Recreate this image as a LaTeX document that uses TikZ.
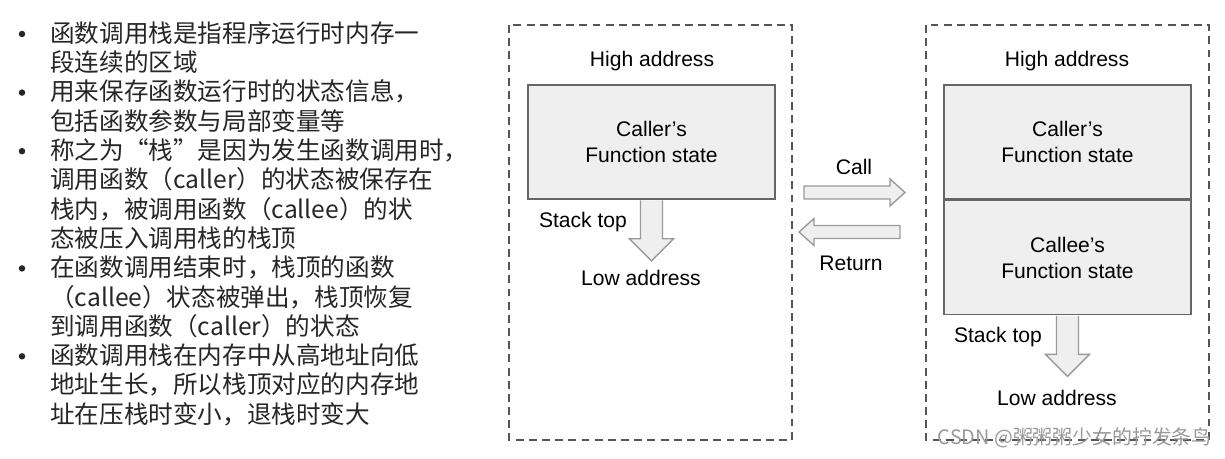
\documentclass[tikz,border=0pt]{standalone}
\usepackage{fontspec}
\setmainfont{Liberation Sans}
\newfontfamily\cjk{Noto Sans CJK SC}
\usetikzlibrary{positioning}
\definecolor{boxgray}{HTML}{EFEFEF}
\definecolor{edgegray}{HTML}{666666}
\definecolor{arrgray}{HTML}{9A9A9A}
\definecolor{dashgray}{HTML}{555555}
\definecolor{txtgray}{HTML}{262626}
\tikzset{
  cnline/.style={anchor=west,inner sep=0pt,text height=12.3pt,text depth=1.7pt,
    font=\cjk\fontsize{14}{16.7}\selectfont,text=txtgray},
  bullet/.style={circle,fill=txtgray,inner sep=0pt,minimum size=0.13cm},
  lbl/.style={inner sep=0pt,font=\fontsize{12}{14.7}\selectfont,align=center},
  statebox/.style={draw=edgegray,fill=boxgray,line width=0.9pt,minimum width=4.94cm,
    minimum height=2.28cm,inner sep=0pt,align=center,font=\fontsize{12}{14.7}\selectfont},
  dashframe/.style={draw=dashgray,line width=1.1pt,dash pattern=on 4.5pt off 3pt},
  blockarrow/.style={draw=arrgray,fill=boxgray,line width=0.8pt,line join=miter},
  sarrow/.pic={\draw[blockarrow] (-11,0.5) -- ++(0,38.5) -- ++(-11,0) -- ++(22,22)
    -- ++(22,-22) -- ++(-11,0) -- ++(0,-38.5);},
  harrow/.pic={\draw[blockarrow] (0,-6.5) -- ++(86,0) -- ++(0,-7) -- ++(15,13.5)
    -- ++(-15,13.5) -- ++(0,-7) -- ++(-86,0) -- cycle;}
}
\begin{document}
\begin{tikzpicture}[x=0.02cm,y=-0.02cm]
\useasboundingbox (0,0) rectangle (1225,459);
% left column: the bullet list
\foreach \k/\txt in {0/函数调用栈是指程序运行时内存一,1/段连续的区域,
  2/用来保存函数运行时的状态信息，,3/包括函数参数与局部变量等,
  4/称之为“栈”是因为发生函数调用时，,5/调用函数（caller）的状态被保存在,
  6/栈内，被调用函数（callee）的状,7/态被压入调用栈的栈顶,
  8/在函数调用结束时，栈顶的函数,9/（callee）状态被弹出，栈顶恢复,
  10/到调用函数（caller）的状态,11/函数调用栈在内存中从高地址向低,
  12/地址生长，所以栈顶对应的内存地,13/址在压栈时变小，退栈时变大}
  \node[cnline] (l\k) at (50,{33+29.3*\k}) {\txt};
\foreach \k in {0,2,4,8,11}
  \node[bullet] (b\k) at (22,{34+29.3*\k}) {};
% before the call
\draw[dashframe] (509,25) rectangle (792,440);
\node[lbl] (lhigh) at (652,61) {High address};
\node[statebox] (lcaller) at (651.5,142) {Caller’s\\Function state};
\pic at (lcaller.south) {sarrow};
\node[lbl] (ltop) at (583,222) {Stack top};
\node[lbl] (llow) at (641,278) {Low address};
% call / return
\node[lbl] (call) at (854,167) {Call};
\pic at (804,192.5) {harrow};
\pic[xscale=-1] at (900,232) {harrow};
\node[lbl] (return) at (851,263) {Return};
% after the call
\draw[dashframe] (926,25) rectangle (1209,440);
\node[lbl] (rhigh) at (1067,61) {High address};
\node[statebox] (rcaller) at (1067.5,142) {Caller’s\\Function state};
\node[statebox,below=0pt of rcaller] (rcallee) {Callee’s\\Function state};
\pic at (rcallee.south) {sarrow};
\node[lbl] (rtop) at (998,337) {Stack top};
\node[lbl] (rlow) at (1057,398) {Low address};
\node[anchor=east,inner sep=0pt,font=\cjk\fontsize{11.3}{13}\selectfont,text=black!40]
  (mark) at (1212,438) {CSDN @粥粥粥少女的拧发条鸟};
\end{tikzpicture}
\end{document}
